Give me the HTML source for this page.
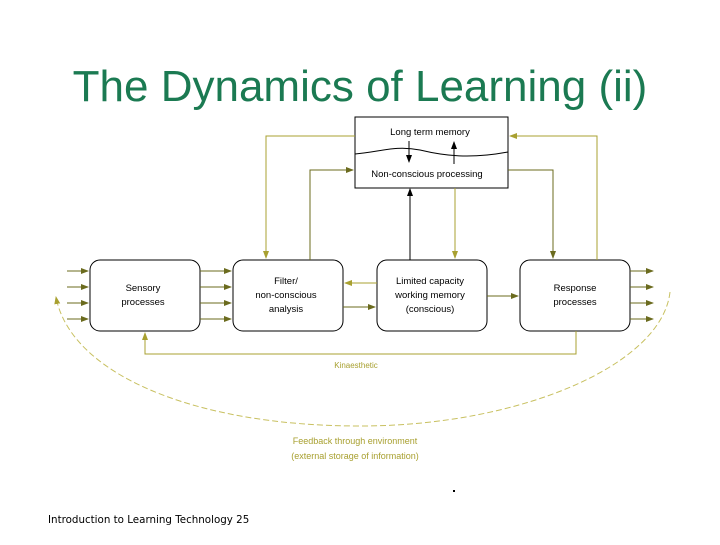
<!DOCTYPE html>
<html><head><style>
body{margin:0;width:720px;height:540px;background:#fff;overflow:hidden;font-family:"Liberation Sans",sans-serif;}
</style></head><body>
<svg width="720" height="540" viewBox="0 0 720 540" xmlns="http://www.w3.org/2000/svg" font-family="Liberation Sans, sans-serif">
<defs>
<marker id="a" markerWidth="8" markerHeight="8" refX="7" refY="4" orient="auto" markerUnits="userSpaceOnUse"><path d="M0,1 L8,4 L0,7 z" fill="#6b6b1e"/></marker>
<marker id="b" markerWidth="8" markerHeight="8" refX="7" refY="4" orient="auto" markerUnits="userSpaceOnUse"><path d="M0,1 L8,4 L0,7 z" fill="#000"/></marker>
<marker id="c" markerWidth="8" markerHeight="8" refX="7" refY="4" orient="auto" markerUnits="userSpaceOnUse"><path d="M0,1 L8,4 L0,7 z" fill="#a8a030"/></marker>
</defs>
<text x="360" y="101" text-anchor="middle" font-size="44" fill="#1b7a52">The Dynamics of Learning (ii)</text>

<g fill="#fff" stroke="#000" stroke-width="1">
<rect x="355" y="117" width="153" height="71"/>
<rect x="90" y="260" width="110" height="71" rx="10"/>
<rect x="233" y="260" width="110" height="71" rx="10"/>
<rect x="377" y="260" width="110" height="71" rx="10"/>
<rect x="520" y="260" width="110" height="71" rx="10"/>
</g>
<path d="M355,154 C380,152 395,145 420,150 C445,156 470,159 508,152" fill="none" stroke="#000"/>
<line x1="409" y1="141" x2="409" y2="162" stroke="#000" marker-end="url(#b)"/>
<line x1="454" y1="164" x2="454" y2="142" stroke="#000" marker-end="url(#b)"/>
<line x1="410" y1="260" x2="410" y2="189" stroke="#000" marker-end="url(#b)"/>

<g font-size="9.5" fill="#000" text-anchor="middle">
<text x="430" y="135">Long term memory</text>
<text x="427" y="177">Non-conscious processing</text>
<text x="143" y="291">Sensory</text><text x="143" y="305">processes</text>
<text x="286" y="284">Filter/</text><text x="286" y="298">non-conscious</text><text x="286" y="312">analysis</text>
<text x="430" y="284">Limited capacity</text><text x="430" y="298">working memory</text><text x="430" y="312">(conscious)</text>
<text x="575" y="291">Response</text><text x="575" y="305">processes</text>
</g>

<g fill="none" stroke="#a8a030" stroke-width="1">
<polyline points="355,136 266,136 266,258" marker-end="url(#c)"/>
<polyline points="455,188 455,258" marker-end="url(#c)"/>
<polyline points="597,260 597,136 510,136" marker-end="url(#c)"/>
<polyline points="377,283 345,283" marker-end="url(#c)"/>
<polyline points="576,331 576,354 145,354 145,333" marker-end="url(#c)"/>
</g>
<g fill="none" stroke="#6b6b1e" stroke-width="1">
<polyline points="310,260 310,170 353,170" marker-end="url(#a)"/>
<polyline points="508,170 553,170 553,258" marker-end="url(#a)"/>
<polyline points="343,307 375,307" marker-end="url(#a)"/>
<polyline points="487,296 518,296" marker-end="url(#a)"/>
<line x1="67" y1="271" x2="88" y2="271" marker-end="url(#a)"/>
<line x1="67" y1="287" x2="88" y2="287" marker-end="url(#a)"/>
<line x1="67" y1="303" x2="88" y2="303" marker-end="url(#a)"/>
<line x1="67" y1="319" x2="88" y2="319" marker-end="url(#a)"/>
<line x1="200" y1="271" x2="231" y2="271" marker-end="url(#a)"/>
<line x1="200" y1="287" x2="231" y2="287" marker-end="url(#a)"/>
<line x1="200" y1="303" x2="231" y2="303" marker-end="url(#a)"/>
<line x1="200" y1="319" x2="231" y2="319" marker-end="url(#a)"/>
<line x1="630" y1="271" x2="653" y2="271" marker-end="url(#a)"/>
<line x1="630" y1="287" x2="653" y2="287" marker-end="url(#a)"/>
<line x1="630" y1="303" x2="653" y2="303" marker-end="url(#a)"/>
<line x1="630" y1="319" x2="653" y2="319" marker-end="url(#a)"/>
</g>
<path d="M670,292 C662,365 520,426 360,426 C190,426 70,372 56,297" fill="none" stroke="#c8c060" stroke-dasharray="6,3" marker-end="url(#c)"/>

<g font-size="9" fill="#a8a030" text-anchor="middle">
<text x="356" y="368" font-size="8">Kinaesthetic</text>
<text x="355" y="444">Feedback through environment</text>
<text x="355" y="459">(external storage of information)</text>
</g>
<rect x="453" y="490" width="2" height="2" fill="#000"/>
<text x="48" y="523" font-size="10.3" fill="#000" font-family="DejaVu Sans, sans-serif">Introduction to Learning Technology  25</text>
</svg>
</body></html>
